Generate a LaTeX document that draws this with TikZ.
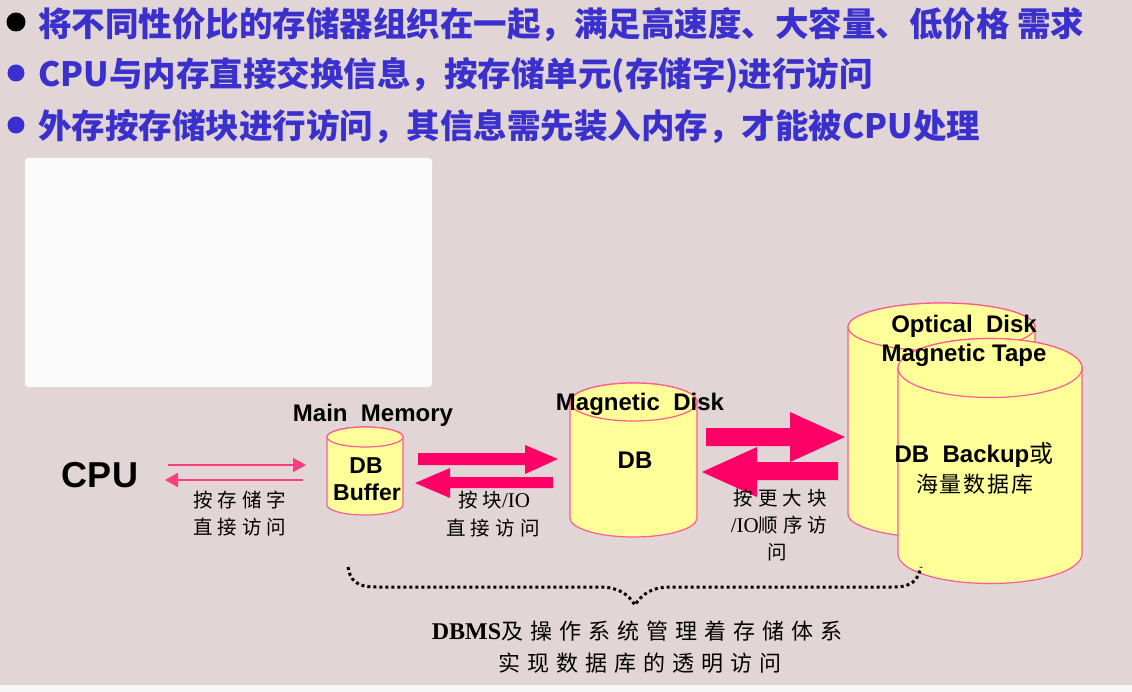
\documentclass[tikz,border=0pt]{standalone}
\usepackage{fontspec}
\setmainfont{Liberation Serif}
\newfontfamily\sansf{Liberation Sans}
\newfontfamily\cjk{Noto Sans CJK SC}
\usetikzlibrary{arrows.meta}

\definecolor{bgc}{RGB}{225,213,214}
\definecolor{panel}{RGB}{250,250,250}
\definecolor{bluetxt}{RGB}{58,48,205}
\definecolor{hotpink}{RGB}{255,0,102}
\definecolor{thinpink}{RGB}{255,60,130}
\definecolor{cylfill}{RGB}{255,255,153}
\definecolor{cylline}{RGB}{255,90,150}

% small gaps between the characters of the hand-lettered notes
\newcommand\sk{\kern5pt}
\newcommand\bk{\kern7pt}

% storage cylinder: centre x, top ellipse y, bottom ellipse y, x radius, y radius
\newcommand\dbcyl[5]{%
  \filldraw[cyl] (#1-#4,#2) -- (#1-#4,#3)
    arc[start angle=180,end angle=360,x radius=#4pt,y radius=#5pt]
    -- (#1+#4,#2)
    arc[start angle=0,end angle=180,x radius=#4pt,y radius=#5pt] -- cycle;
  \draw[cyl] (#1,#2) ellipse[x radius=#4pt,y radius=#5pt];
}

\begin{document}
\begin{tikzpicture}[x=1pt,y=-1pt,
  cyl/.style={fill=cylfill,draw=cylline,line width=1.2pt},
  blockarrow/.style={fill=hotpink},
  thinarrow/.style={draw=thinpink,line width=1.8pt,-{Triangle[length=13pt,width=14pt]}},
  bullettext/.style={anchor=base west,inner sep=0,text=bluetxt,font=\cjk\bfseries\fontsize{33.5}{33.5}\selectfont},
  label/.style={inner sep=0,font=\sansf\bfseries\fontsize{24}{24}\selectfont},
  note/.style={inner sep=0,font=\cjk\fontsize{19.5}{19.5}\selectfont},
  bignote/.style={inner sep=0,font=\cjk\fontsize{22}{22}\selectfont},
  dotbrace/.style={draw=black,line width=3pt,dash pattern=on 3pt off 3pt},
]
\useasboundingbox (0,0) rectangle (1132,692);
\fill[bgc] (0,0) rectangle (1132,692);
\fill[gray!6] (0,685) rectangle (1132,692);

% blank panel
\fill[panel,rounded corners=3pt] (25,158) rectangle (432,387);

% bullet list
\fill[black] (16,22) circle[radius=9.5pt];
\fill[bluetxt] (16,73) circle[radius=8.5pt];
\fill[bluetxt] (16,125) circle[radius=8.5pt];
\node[bullettext] (b1) at (38,37) {将不同性价比的存储器组织在一起，满足高速度、大容量、低价格 需求};
\node[bullettext] (b2) at (38,87) {CPU与内存直接交换信息，按存储单元(存储字)进行访问};
\node[bullettext] (b3) at (38,139) {外存按存储块进行访问，其信息需先装入内存，才能被CPU处理};

% CPU
\node[inner sep=0,anchor=base,font=\sansf\bfseries\fontsize{36}{36}\selectfont] (cpu) at (100,487) {CPU};

% CPU <-> main memory
\coordinate (c1s) at (168,465);
\coordinate (c1e) at (306,465);
\coordinate (c2s) at (303,480);
\coordinate (c2e) at (165,480);
\draw[thinarrow] (c1s) -- (c1e);
\draw[thinarrow] (c2s) -- (c2e);
\node[note] (n1a) at (240,500) {按\sk 存\sk 储\sk 字};
\node[note] (n1b) at (240,527) {直\sk 接\sk 访\sk 问};

% main memory buffer
\node[label,anchor=base] (mm) at (373,421) {Main\ \ Memory};
\dbcyl{365}{437}{505}{38}{10}
\node[label,anchor=base,font=\sansf\bfseries\fontsize{23}{23}\selectfont] (dbbuf1) at (366,473) {DB};
\node[label,anchor=base,font=\sansf\bfseries\fontsize{23}{23}\selectfont] (dbbuf2) at (367,500) {Buffer};

% buffer <-> disk block arrows
\fill[blockarrow] (418,453) -- (525,453) -- (525,445) -- (558,459) -- (525,474) -- (525,465) -- (418,465) -- cycle;
\fill[blockarrow] (553,477) -- (450,477) -- (450,468) -- (415,483) -- (450,498) -- (450,488) -- (553,488) -- cycle;
\node[note] (n2a) at (494,500) {按\sk 块{\fontsize{21}{21}\selectfont\rmfamily /IO}};
\node[note] (n2b) at (493,528) {直\sk 接\sk 访\sk 问};

% magnetic disk
\dbcyl{633.5}{402}{518}{63.5}{19}
\node[label,anchor=base] (md) at (640,410) {Magnetic\ \ Disk};
\node[label,anchor=base] (dbd) at (635,468) {DB};

% disk <-> archive block arrows
\fill[blockarrow] (706,428) -- (790,428) -- (790,412) -- (845,437) -- (790,462) -- (790,446) -- (706,446) -- cycle;
\fill[blockarrow] (838,462) -- (757,462) -- (757,447) -- (702,472) -- (757,497) -- (757,480) -- (838,480) -- cycle;
\node[note] (n3a) at (780,498) {按\sk 更\sk 大\sk 块};
\node[note] (n3b) at (779,525) {{\fontsize{21}{21}\selectfont\rmfamily /IO}顺\sk 序\sk 访};
\node[note] (n3c) at (777,552) {问};

% optical disk / magnetic tape
\dbcyl{941.5}{327}{514}{93.5}{24}
\dbcyl{990}{368}{554}{92}{29.5}
\node[label,anchor=base] (od) at (964,333) {Optical\ \ Disk};
\node[label,anchor=base] (mt) at (964,362) {Magnetic Tape};
\node[label,anchor=base] (bk1) at (974,462) {DB\ \ Backup{\cjk\mdseries 或}};
\node[bignote] (bk2) at (975,484) {海\kern2pt 量\kern2pt 数\kern2pt 据\kern2pt 库};

% dotted brace under the storage chain
\coordinate (brl) at (348,567);
\coordinate (brm) at (635,605);
\coordinate (brr) at (921,567);
\draw[dotbrace] (brl) .. controls (350,580) and (356,587) .. (376,587)
  -- (600,587) .. controls (618,587) and (628,594) .. (brm)
  .. controls (642,594) and (652,587) .. (670,587)
  -- (894,587) .. controls (912,587) and (918,580) .. (brr);
\node[bignote,anchor=base] (s1) at (637,639) {{\rmfamily\bfseries\fontsize{24}{24}\selectfont DBMS}及\bk 操\bk 作\bk 系\bk 统\bk 管\bk 理\bk 着\bk 存\bk 储\bk 体\bk 系};
\node[bignote] (s2) at (640,663) {实\bk 现\bk 数\bk 据\bk 库\bk 的\bk 透\bk 明\bk 访\bk 问};
\end{tikzpicture}
\end{document}
